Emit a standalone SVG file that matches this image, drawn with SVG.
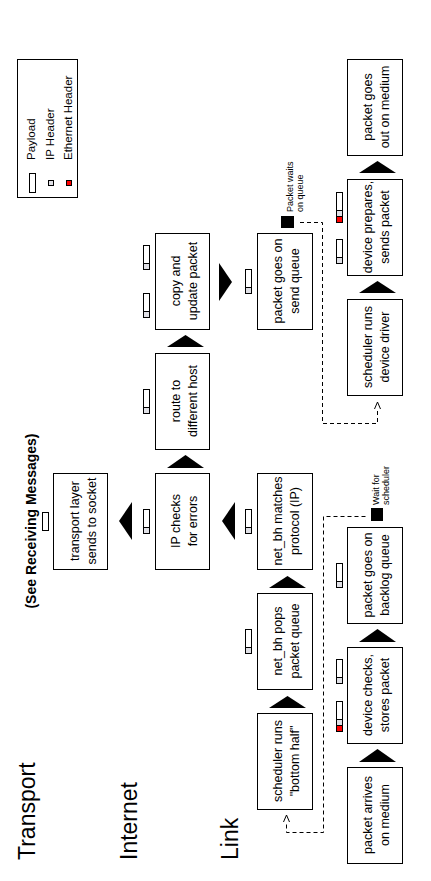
<svg xmlns="http://www.w3.org/2000/svg" width="431" height="881" viewBox="0 0 431 881">
<style>
.box{fill:#fff;stroke:#000;stroke-width:1}
.t{font-family:"Liberation Sans",Arial,sans-serif;font-size:12.5px;fill:#000;text-anchor:middle}
.layer{font-family:"Liberation Sans",Arial,sans-serif;font-size:23px;fill:#000}
.small{font-family:"Liberation Sans",Arial,sans-serif;font-size:9px;fill:#000}
.leg{font-family:"Liberation Sans",Arial,sans-serif;font-size:11.5px;fill:#000}
.tri{fill:#000}
.pl{fill:#fff;stroke:#000;stroke-width:1}
.ip{fill:#e0e0e6;stroke:#000;stroke-width:1}
.eth{fill:#f00;stroke:#000;stroke-width:1}
.dash{fill:none;stroke:#000;stroke-width:1;stroke-dasharray:4,3}
.head{fill:none;stroke:#000;stroke-width:1}
</style>
<defs>
<g id="pk"><rect class="pl" x="0.5" y="0.5" width="6" height="18"/><rect class="ip" x="0.5" y="18.5" width="6" height="6"/></g>
<g id="pke"><rect class="pl" x="0.5" y="0.5" width="6" height="18"/><rect class="ip" x="0.5" y="18.5" width="6" height="6"/><rect class="eth" x="0.5" y="24.5" width="6" height="6"/></g>
</defs>
<rect width="431" height="881" fill="#fff"/>

<g id="layers">
<text class="layer" transform="translate(35,860) rotate(-90)">Transport</text>
<text class="layer" transform="translate(137,860) rotate(-90)">Internet</text>
<text class="layer" transform="translate(238,860) rotate(-90)">Link</text>
<text transform="translate(36,521) rotate(-90)" style="font-family:'Liberation Sans',Arial,sans-serif;font-size:14px;font-weight:bold;text-anchor:middle">(See Receiving Messages)</text>
</g>

<g id="legend">
<rect class="box" x="17.5" y="59.5" width="60" height="138"/>
<rect class="pl" x="29.5" y="173.5" width="6" height="19"/>
<rect class="ip" x="48.5" y="180.5" width="5" height="5"/>
<rect class="eth" x="66.5" y="180.5" width="5" height="5"/>
<text class="leg" transform="translate(35,160) rotate(-90)">Payload</text>
<text class="leg" transform="translate(54,160) rotate(-90)">IP Header</text>
<text class="leg" transform="translate(72,160) rotate(-90)">Ethernet Header</text>
</g>

<g id="transport"><rect class="box" x="53.5" y="473.5" width="54" height="96"/>
<text class="t" transform="translate(78.5,521) rotate(-90)">transport layer</text>
<text class="t" transform="translate(95.5,521) rotate(-90)">sends to socket</text>
<rect class="pl" x="42.5" y="512.5" width="6" height="18"/></g>

<g id="ipcheck"><rect class="box" x="155.5" y="473.5" width="54" height="96"/>
<text class="t" transform="translate(180,521) rotate(-90)">IP checks</text>
<text class="t" transform="translate(197,521) rotate(-90)">for errors</text>
<use href="#pk" x="143" y="509"/></g>

<g id="route"><rect class="box" x="155.5" y="353.5" width="54" height="96"/>
<text class="t" transform="translate(180,401) rotate(-90)">route to</text>
<text class="t" transform="translate(197,401) rotate(-90)">different host</text>
<use href="#pk" x="143" y="389"/></g>

<g id="copy"><rect class="box" x="155.5" y="233.5" width="54" height="96"/>
<text class="t" transform="translate(180,281) rotate(-90)">copy and</text>
<text class="t" transform="translate(197,281) rotate(-90)">update packet</text>
<use href="#pk" x="143" y="245"/><use href="#pk" x="143" y="293"/></g>

<g id="sendq"><rect class="box" x="257.5" y="233.5" width="55" height="96"/>
<text class="t" transform="translate(282,281) rotate(-90)">packet goes on</text>
<text class="t" transform="translate(299,281) rotate(-90)">send queue</text>
<use href="#pk" x="245" y="269"/></g>

<g id="nbmatch"><rect class="box" x="257.5" y="473.5" width="55" height="96"/>
<text class="t" transform="translate(282,521) rotate(-90)">net_bh matches</text>
<text class="t" transform="translate(299,521) rotate(-90)">protocol (IP)</text>
<use href="#pk" x="245" y="509"/></g>

<g id="nbpops"><rect class="box" x="257.5" y="593.5" width="55" height="96"/>
<text class="t" transform="translate(282,641) rotate(-90)">net_bh pops</text>
<text class="t" transform="translate(299,641) rotate(-90)">packet queue</text>
<use href="#pk" x="245" y="629"/></g>

<g id="schedbh"><rect class="box" x="257.5" y="713.5" width="55" height="96"/>
<text class="t" transform="translate(282,761) rotate(-90)">scheduler runs</text>
<text class="t" transform="translate(299,761) rotate(-90)">"bottom half"</text></g>

<g id="arrives"><rect class="box" x="347.5" y="767.5" width="55" height="96"/>
<text class="t" transform="translate(372,815) rotate(-90)">packet arrives</text>
<text class="t" transform="translate(389,815) rotate(-90)">on medium</text></g>

<g id="checks"><rect class="box" x="347.5" y="647.5" width="55" height="96"/>
<text class="t" transform="translate(372,695) rotate(-90)">device checks,</text>
<text class="t" transform="translate(389,695) rotate(-90)">stores packet</text>
<use href="#pk" x="336" y="659"/><use href="#pke" x="336" y="701"/></g>

<g id="backlog"><rect class="box" x="347.5" y="527.5" width="55" height="96"/>
<text class="t" transform="translate(372,575) rotate(-90)">packet goes on</text>
<text class="t" transform="translate(389,575) rotate(-90)">backlog queue</text>
<use href="#pk" x="336" y="563"/></g>

<g id="scheddd"><rect class="box" x="347.5" y="299.5" width="55" height="96"/>
<text class="t" transform="translate(372,347) rotate(-90)">scheduler runs</text>
<text class="t" transform="translate(389,347) rotate(-90)">device driver</text></g>

<g id="prepares"><rect class="box" x="347.5" y="179.5" width="55" height="96"/>
<text class="t" transform="translate(372,227) rotate(-90)">device prepares,</text>
<text class="t" transform="translate(389,227) rotate(-90)">sends packet</text>
<use href="#pke" x="336" y="192"/><use href="#pk" x="336" y="239"/></g>

<g id="out"><rect class="box" x="347.5" y="59.5" width="55" height="96"/>
<text class="t" transform="translate(372,107) rotate(-90)">packet goes</text>
<text class="t" transform="translate(389,107) rotate(-90)">out on medium</text></g>

<g id="waitsched">
<rect x="371" y="508" width="12" height="13" fill="#000"/>
<text class="small" transform="translate(379,505) rotate(-90)">Wait for</text>
<text class="small" transform="translate(389,505) rotate(-90)">scheduler</text>
</g>
<g id="waitqueue">
<rect x="281" y="216" width="13" height="12" fill="#000"/>
<text class="small" transform="translate(293,212) rotate(-90)">Packet waits</text>
<text class="small" transform="translate(303,212) rotate(-90)">on queue</text>
</g>

<g id="connectors">
<polygon class="tri" points="377.5,749 396,762 359,762"/>
<polygon class="tri" points="377.5,629 396,642 359,642"/>
<polygon class="tri" points="377.5,281 396,293 359,293"/>
<polygon class="tri" points="377.5,161 396,173 359,173"/>
<polygon class="tri" points="287.5,696 306,708 269,708"/>
<polygon class="tri" points="287.5,576 306,588 269,588"/>
<polygon class="tri" points="185.5,455 204,468 167,468"/>
<polygon class="tri" points="185.5,335 204,347 167,347"/>
<polygon class="tri" points="222,521 235,502 235,540"/>
<polygon class="tri" points="119,521 132,502 132,540"/>
<polygon class="tri" points="232,282 219,263 219,301"/>
<path class="dash" d="M365.5,516.5 H323.5 V832.5 H286.5 V822"/>
<path class="head" d="M283.5,822 L286.5,815 L289.5,822"/>
<path class="dash" d="M300,222.5 H322.5 V423.5 H377.5 V409"/>
<path class="head" d="M374.5,409 L377.5,402 L380.5,409"/>
</g>
</svg>
